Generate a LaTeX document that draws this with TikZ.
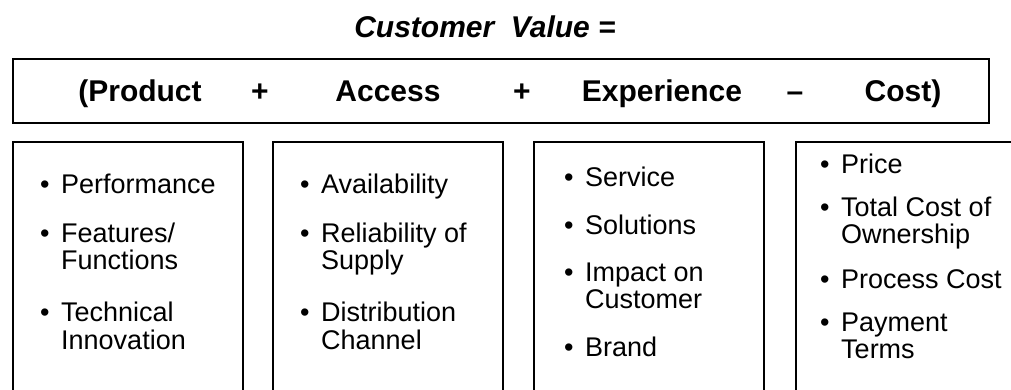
\documentclass[tikz,border=0pt]{standalone}
\usepackage{fontspec}
\setmainfont{Liberation Sans}
\newcommand{\bul}{\makebox[21pt][l]{\textbullet}}
\newcommand{\hang}{\hspace*{21pt}}
\begin{document}
\begin{tikzpicture}[x=1pt,y=-1pt,
    frame/.style={draw,line width=1.6pt,inner sep=0pt,anchor=north west},
    term/.style={font=\fontsize{30}{30}\selectfont\bfseries,anchor=base},
    entry/.style={font=\fontsize{27}{27}\selectfont,inner sep=0pt,anchor=base west}]
    \useasboundingbox (0,0) rectangle (1011,389);
    \clip (0,0) rectangle (1011,389);

    % heading and the sum
    \node[font=\fontsize{30}{30}\selectfont\bfseries\itshape,anchor=base] (title) at (485,37) {Customer\ \ Value =};
    \node[frame,minimum width=976pt,minimum height=64pt] (sum) at (12,58) {};
    \node[term] (prod) at (140,101) {(Product};
    \node[term] (plus1) at (260,101) {+};
    \node[term] (acc) at (388,101) {Access};
    \node[term] (plus2) at (522,101) {+};
    \node[term] (exp) at (662,101) {Experience};
    \node[term] (minus) at (795,101) {--};
    \node[term] (cost) at (903,101) {Cost)};

    % the four boxes below
    \foreach \x/\n in {12/b1,272/b2,533/b3,795/b4}
        \node[frame,minimum width=230pt,minimum height=300pt] (\n) at (\x,141) {};

    \foreach \y/\t [count=\i] in {193/{\bul Performance},242/{\bul Features/},269/{\hang Functions},
                                  321/{\bul Technical},349/{\hang Innovation}}
        \node[entry] (p\i) at (40,\y) {\t};
    \foreach \y/\t [count=\i] in {193/{\bul Availability},242/{\bul Reliability of},269/{\hang Supply},
                                  321/{\bul Distribution},349/{\hang Channel}}
        \node[entry] (a\i) at (300,\y) {\t};
    \foreach \y/\t [count=\i] in {186/{\bul Service},234/{\bul Solutions},281/{\bul Impact on},
                                  308/{\hang Customer},356/{\bul Brand}}
        \node[entry] (e\i) at (564,\y) {\t};
    \foreach \y/\t [count=\i] in {173/{\bul Price},216/{\bul Total Cost of},243/{\hang Ownership},
                                  288/{\bul Process Cost},331/{\bul Payment},358/{\hang Terms}}
        \node[entry] (c\i) at (820,\y) {\t};
\end{tikzpicture}
\end{document}
